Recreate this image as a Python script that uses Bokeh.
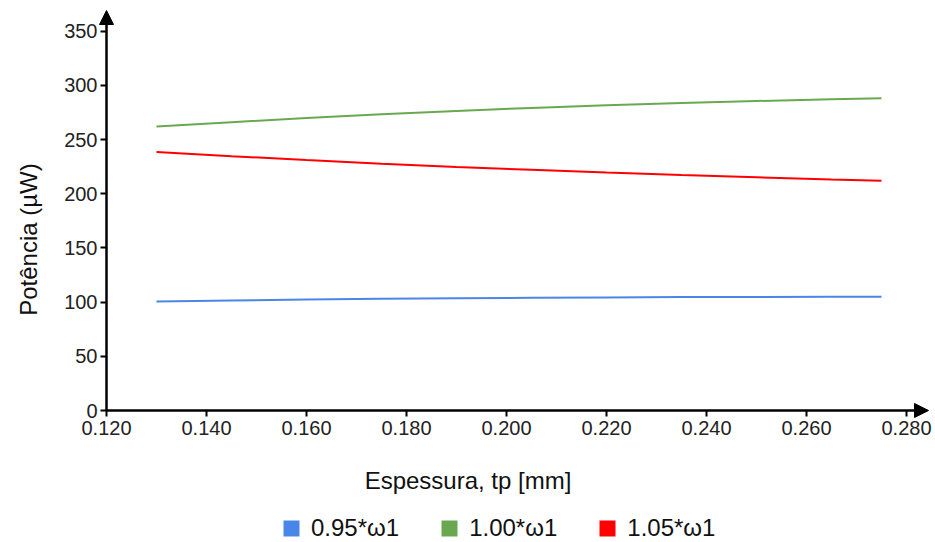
from bokeh.plotting import figure
from bokeh.models import Arrow, NormalHead, Label, Legend, LegendItem, FixedTicker, ColumnDataSource
from bokeh.embed import file_html
from bokeh.resources import INLINE

thickness = [0.130, 0.145, 0.160, 0.175, 0.190, 0.205, 0.220, 0.235, 0.250, 0.265, 0.275]
p095 = [100.5, 101.5, 102.3, 103.0, 103.5, 104.0, 104.3, 104.6, 104.8, 105.0, 105.0]
p100 = [262.0, 266.0, 269.8, 273.3, 276.4, 279.1, 281.5, 283.6, 285.5, 287.1, 288.0]
p105 = [238.5, 234.6, 231.0, 227.7, 224.7, 222.0, 219.5, 217.3, 215.2, 213.2, 212.0]
series_names = ["0.95*\u03c91", "1.00*\u03c91", "1.05*\u03c91"]
colors = ["#4a86e8", "#6aa84f", "#ff0000"]
x_ticks = [0.120, 0.140, 0.160, 0.180, 0.200, 0.220, 0.240, 0.260, 0.280]
y_ticks = [0, 50, 100, 150, 200, 250, 300, 350]

FONT = "Liberation Sans"
X_MIN, X_MAX = 0.120, 0.2844     # axis arrows span
Y_MIN, Y_MAX = 0.0, 369.0
# visible window (frame fills the whole canvas; axes sit at fixed locations)
p = figure(frame_width=935, frame_height=542, output_backend="svg", toolbar_location=None,
           x_range=(0.0988, 0.2858), y_range=(-121.77, 378.23),
           min_border_left=0, min_border_right=0, min_border_top=0, min_border_bottom=0)
p.outline_line_color = None
p.grid.visible = False
p.background_fill_color = "white"

for ax in (p.xaxis, p.yaxis):
    ax.axis_line_color = None
    ax.major_tick_line_color = "black"
    ax.major_tick_line_width = 2
    ax.major_tick_out = 6
    ax.major_tick_in = 0
    ax.minor_tick_line_color = None
    ax.major_label_text_font = FONT
    ax.major_label_text_font_size = "20px"
    ax.major_label_text_color = "#222222"
    ax.axis_label_text_font = FONT
    ax.axis_label_text_font_style = "normal"
    ax.axis_label_text_color = "#111111"

p.xaxis.fixed_location = Y_MIN
p.yaxis.fixed_location = X_MIN
p.xaxis.ticker = FixedTicker(ticks=x_ticks)
p.xaxis.major_label_overrides = {t: f"{t:.3f}" for t in x_ticks}
p.yaxis.ticker = FixedTicker(ticks=y_ticks)
p.xaxis.major_label_standoff = 4
p.yaxis.major_label_standoff = 3
p.xaxis.axis_label = "Espessura, tp [mm]"
p.xaxis.axis_label_text_font_size = "24px"
p.xaxis.axis_label_standoff = 29
p.yaxis.axis_label = None

# y-axis title
p.add_layout(Label(x=X_MIN, y=157.7, x_offset=-78, text="Pot\u00eancia (\u00b5W)", angle=1.5708,
                   text_align="center", text_baseline="middle", text_font=FONT,
                   text_font_size="24px", text_color="#111111"))

# axes with arrows
p.add_layout(Arrow(x_start=X_MIN, y_start=Y_MIN, x_end=X_MAX, y_end=Y_MIN, line_width=2.5, line_color="black",
                   end=NormalHead(size=14, fill_color="black", line_color="black")))
p.add_layout(Arrow(x_start=X_MIN, y_start=Y_MIN, x_end=X_MIN, y_end=Y_MAX, line_width=2.5, line_color="black",
                   end=NormalHead(size=14, fill_color="black", line_color="black")))

for name, ys, c in zip(series_names, [p095, p100, p105], colors):
    src = ColumnDataSource(dict(x=thickness, y=ys))
    p.line("x", "y", source=src, line_color=c, line_width=2)

# square legend swatches: hidden quads (drawn out of view), used only by the legend
leg_items = []
for name, c in zip(series_names, colors):
    sq = p.quad(left=[0.0], right=[0.001], top=[-1000.0], bottom=[-1001.0], fill_color=c, line_color=None)
    leg_items.append(LegendItem(label=name, renderers=[sq]))

legend = Legend(items=leg_items, orientation="horizontal", location=(281, 0),
                label_text_font=FONT, label_text_font_size="24px", label_text_color="#111111",
                glyph_width=20, glyph_height=20, spacing=40, label_standoff=10,
                border_line_color=None, background_fill_alpha=0, margin=0, padding=0)
p.add_layout(legend)

open("out.html", "w").write(file_html(p, INLINE))
